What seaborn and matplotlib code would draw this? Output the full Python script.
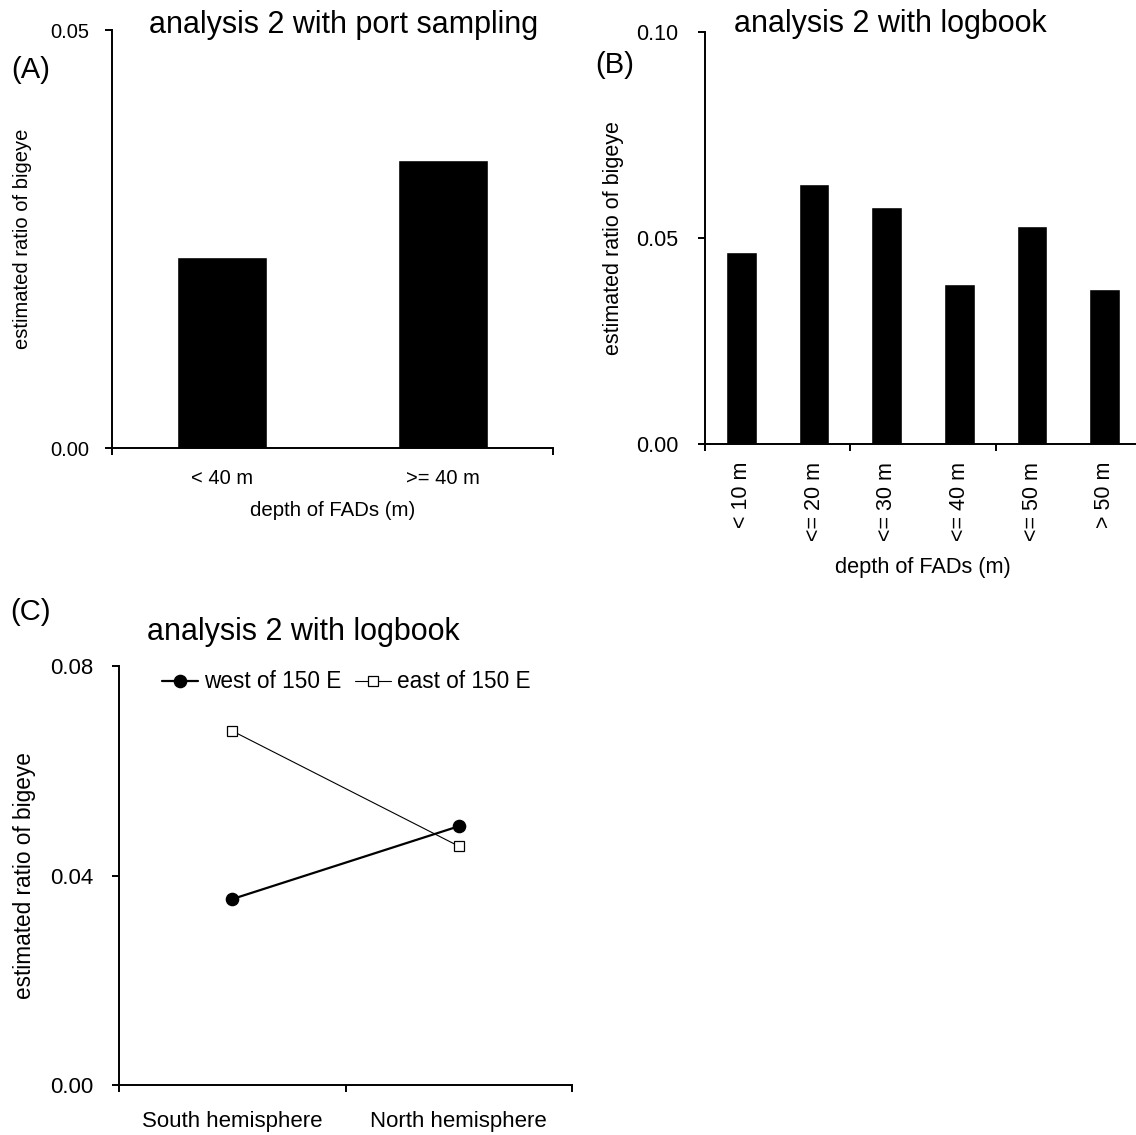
import matplotlib
matplotlib.use("Agg")
import matplotlib.pyplot as plt
from matplotlib.ticker import FixedLocator, FormatStrFormatter
import seaborn as sns

# Panel A: port sampling, two depth classes
depth_port = ["< 40 m", ">= 40 m"]
ratio_port = [0.0228, 0.0344]

# Panel B: logbook, six depth classes
depth_logbook = ["< 10 m", "<= 20 m", "<= 30 m", "<= 40 m", "<= 50 m", "> 50 m"]
ratio_logbook = [0.0466, 0.0631, 0.0575, 0.0388, 0.0529, 0.0376]

# Panel C: logbook, by hemisphere and longitude band
hemispheres = ["South hemisphere", "North hemisphere"]
ratio_west = [0.0355, 0.0494]
ratio_east = [0.0676, 0.0456]

sns.set_style("ticks")
plt.rcParams["font.family"] = ["Liberation Sans", "DejaVu Sans"]
plt.rcParams["text.color"] = "black"
plt.rcParams["axes.labelcolor"] = "black"
plt.rcParams["xtick.color"] = "black"
plt.rcParams["ytick.color"] = "black"

W, H = 1136, 1135
fig = plt.figure(figsize=(W / 100, H / 100), dpi=100)


def add_axes_px(left, right, top, bottom):
    return fig.add_axes([left / W, 1 - bottom / H, (right - left) / W, (bottom - top) / H])


def style_axis(ax, ylim, yticks, fs, ypad, xpad, bounds):
    sns.despine(ax=ax)
    for side in ("left", "bottom"):
        ax.spines[side].set_linewidth(1.4)
        ax.spines[side].set_color("black")
    ax.set_ylim(*ylim)
    ax.set_yticks(yticks)
    ax.yaxis.set_major_formatter(FormatStrFormatter("%.2f"))
    ax.tick_params(axis="y", direction="out", length=5, width=1.4, pad=ypad,
                   labelsize=fs, colors="black")
    ax.xaxis.set_minor_locator(FixedLocator(bounds))
    ax.tick_params(axis="x", which="major", length=0, pad=xpad, labelsize=fs,
                   colors="black")
    ax.tick_params(axis="x", which="minor", direction="out", length=5, width=1.4,
                   colors="black")


ylabel_text = "estimated ratio of bigeye"
xlabel_text = "depth of FADs (m)"

# ---- (A) ----
ax_a = add_axes_px(112, 553, 30, 448)
sns.barplot(x=depth_port, y=ratio_port, color="black", width=0.41,
            errorbar=None, saturation=1, ax=ax_a)
style_axis(ax_a, (0, 0.05), [0, 0.05], 14.5, 11.5, 15, [-0.5, 1.5])
ax_a.set_xlim(-0.5, 1.5)
ax_a.set_ylabel(ylabel_text, fontsize=14.5, va="center", color="black")
ax_a.yaxis.set_label_coords((23 - 112) / 441, 0.5)
ax_a.set_xlabel(xlabel_text, fontsize=14.7, va="center", color="black")
ax_a.xaxis.set_label_coords(0.5, (448 - 510) / 418)

# ---- (B) ----
ax_b = add_axes_px(705, 1141, 32, 444)
sns.barplot(x=depth_logbook, y=ratio_logbook, color="black", width=0.42,
            errorbar=None, saturation=1, ax=ax_b)
style_axis(ax_b, (0, 0.10), [0, 0.05, 0.10], 15.5, 14, 13, [-0.5, 1.5, 3.5, 5.5])
ax_b.set_xlim(-0.5, 5.5)
ax_b.tick_params(axis="x", which="major", labelrotation=90)
ax_b.set_ylabel(ylabel_text, fontsize=15.5, va="center", color="black")
ax_b.yaxis.set_label_coords((613 - 705) / 436, 0.5)
ax_b.set_xlabel(xlabel_text, fontsize=15.7, va="center", color="black")
ax_b.xaxis.set_label_coords((923 - 705) / 436, (444 - 567) / 412)

# ---- (C) ----
ax_c = add_axes_px(119, 572, 666, 1085)
sns.pointplot(x=hemispheres, y=ratio_east, color="black", marker="s",
              markersize=7.2, linewidth=0.8, markerfacecolor="white",
              markeredgewidth=0.9, errorbar=None, label="east of 150 E", ax=ax_c)
sns.pointplot(x=hemispheres, y=ratio_west, color="black", marker="o",
              markersize=8.8, linewidth=1.6, markeredgewidth=1.0,
              errorbar=None, label="west of 150 E", ax=ax_c)
style_axis(ax_c, (0, 0.08), [0, 0.04, 0.08], 16, 13.5, 19, [-0.5, 0.5, 1.5])
ax_c.set_xlim(-0.5, 1.5)
ax_c.set_xlabel("")
ax_c.set_ylabel(ylabel_text, fontsize=16.3, va="center", color="black")
ax_c.yaxis.set_label_coords((25 - 119) / 453, 0.5)

handles, labels = ax_c.get_legend_handles_labels()
order = [labels.index("west of 150 E"), labels.index("east of 150 E")]
ax_c.legend([handles[i] for i in order], [labels[i] for i in order],
            ncol=2, frameon=False, loc="center left",
            bbox_to_anchor=((162 - 119) / 453, (1085 - 682) / 419),
            borderpad=0, borderaxespad=0, handlelength=1.6, handletextpad=0.25,
            columnspacing=0.6, fontsize=16.3, labelcolor="black")

# ---- titles and panel letters ----
fig.text(344 / W, 1 - 33 / H, "analysis 2 with port sampling", ha="center",
         va="baseline", fontsize=22, color="black")
fig.text(890 / W, 1 - 32 / H, "analysis 2 with logbook", ha="center",
         va="baseline", fontsize=22, color="black")
fig.text(303 / W, 1 - 640 / H, "analysis 2 with logbook", ha="center",
         va="baseline", fontsize=22, color="black")
fig.text(31 / W, 1 - 70 / H, "(A)", ha="center", va="center", fontsize=21, color="black")
fig.text(615 / W, 1 - 65 / H, "(B)", ha="center", va="center", fontsize=21, color="black")
fig.text(30 / W, 1 - 612 / H, "(C)", ha="center", va="center", fontsize=21, color="black")

fig.savefig("out.png", dpi=100, facecolor="white")
